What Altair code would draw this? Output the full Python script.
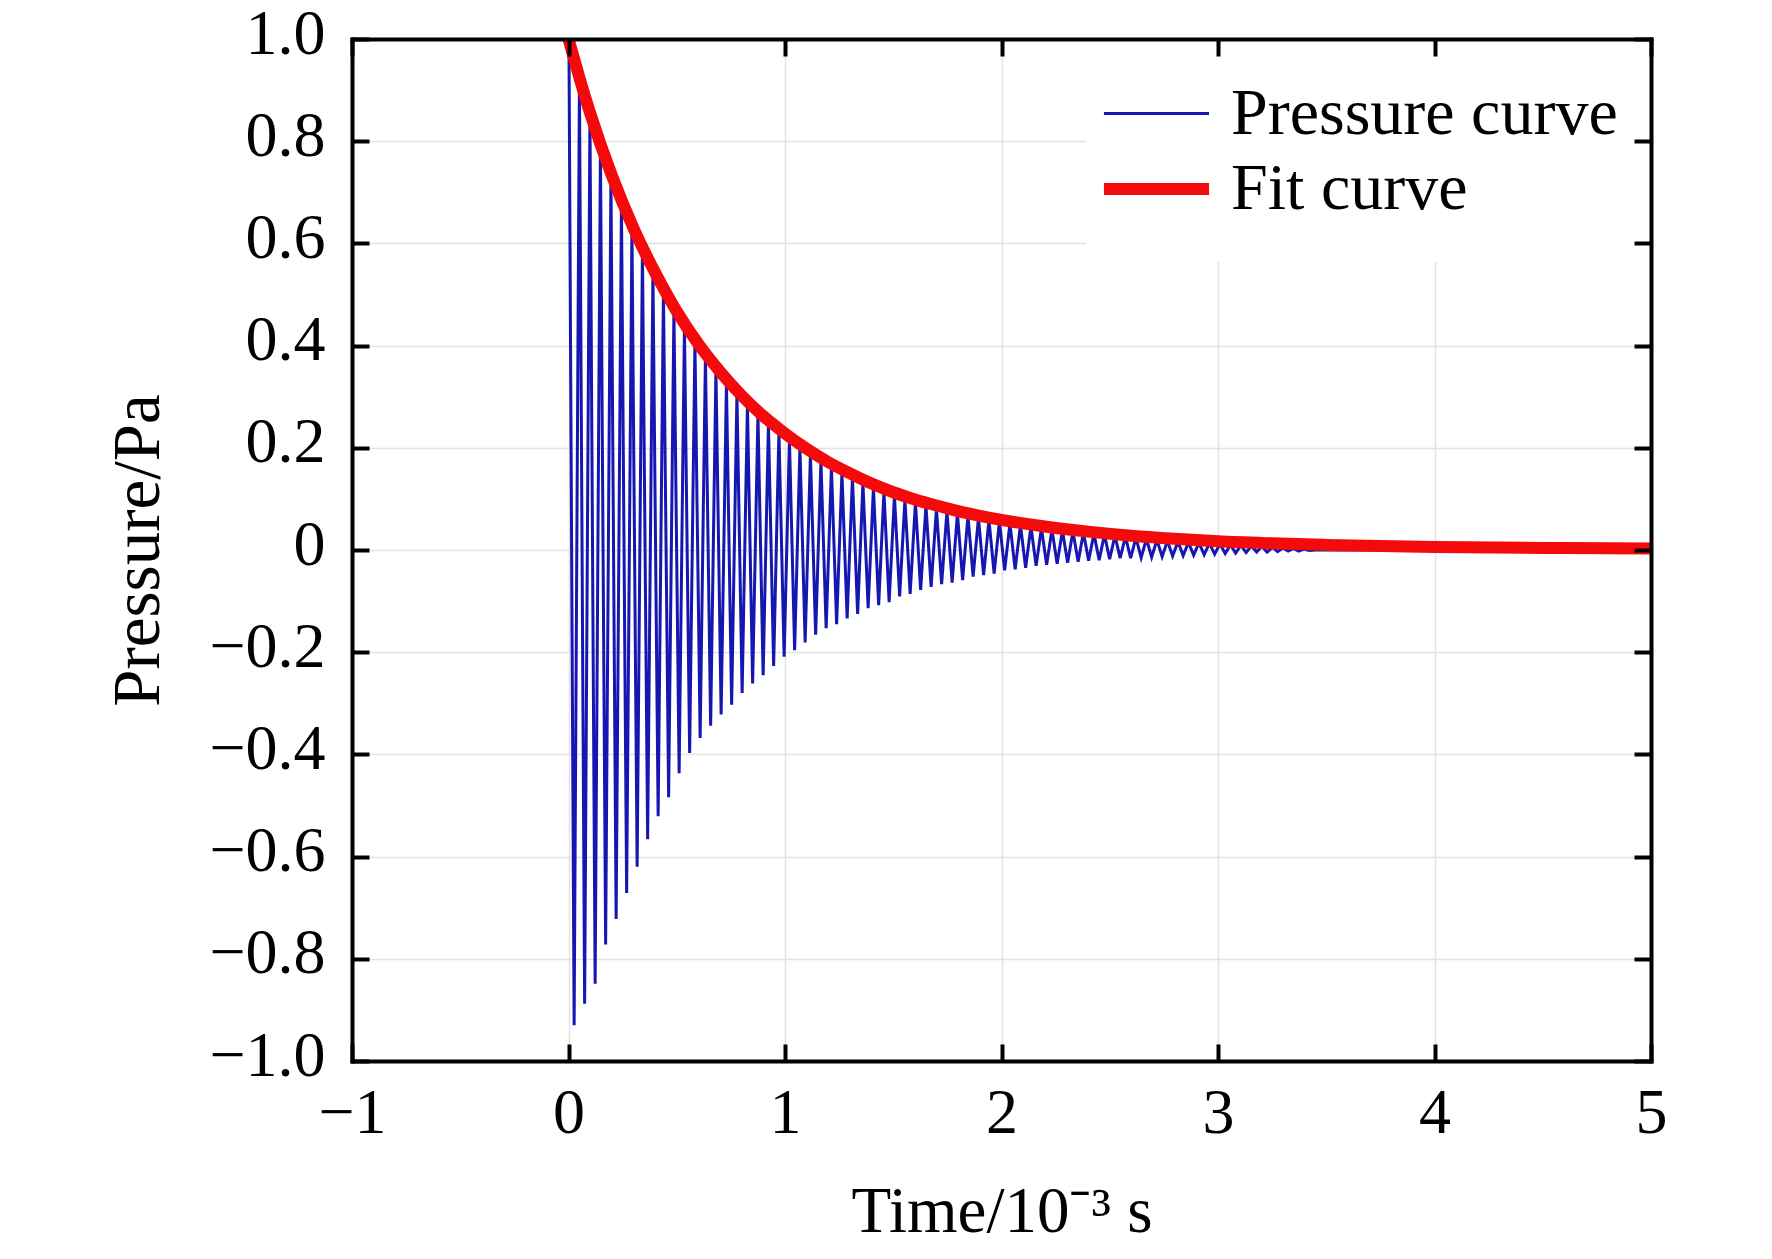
import altair as alt
import pandas as pd

# series names
SERIES = ["Pressure curve", "Fit curve"]

# pressure curve: positive peaks (time in 1e-3 s, pressure in Pa)
UPPER_T = [0.002, 0.0505, 0.099, 0.1475, 0.196, 0.2445, 0.293, 0.3415, 0.390, 0.4385,
           0.487, 0.5355, 0.584, 0.6325, 0.681, 0.7295, 0.778, 0.8265, 0.875, 0.9235,
           0.972, 1.0205, 1.069, 1.1175, 1.166, 1.2145, 1.263, 1.3115, 1.360, 1.4085,
           1.457, 1.5055, 1.554, 1.6025, 1.651, 1.6995, 1.748, 1.7965, 1.845, 1.8935,
           1.942, 1.9905, 2.039, 2.0875, 2.136, 2.1845, 2.233, 2.2815, 2.330, 2.3785,
           2.427, 2.4755, 2.524, 2.5725, 2.621, 2.6695, 2.718, 2.7665, 2.815, 2.8635,
           2.912, 2.9605, 3.009, 3.0575, 3.106, 3.1545, 3.203, 3.2515, 3.300, 3.3485,
           3.397]
UPPER_P = [1.0, 0.915, 0.85, 0.788, 0.731, 0.678, 0.63, 0.586, 0.545, 0.507,
           0.47, 0.437, 0.406, 0.378, 0.352, 0.327, 0.305, 0.284, 0.265, 0.248,
           0.232, 0.216, 0.201, 0.187, 0.174, 0.162, 0.151, 0.141, 0.131, 0.122,
           0.114, 0.106, 0.099, 0.093, 0.087, 0.081, 0.076, 0.071, 0.067, 0.063,
           0.059, 0.056, 0.052, 0.049, 0.046, 0.043, 0.040, 0.038, 0.036, 0.034,
           0.032, 0.030, 0.028, 0.026, 0.024, 0.022, 0.020, 0.018, 0.016, 0.015,
           0.014, 0.013, 0.012, 0.010, 0.009, 0.008, 0.007, 0.005, 0.004, 0.003,
           0.002]

# pressure curve: negative peaks
LOWER_T = [0.026, 0.0745, 0.123, 0.1715, 0.220, 0.2685, 0.317, 0.3655, 0.414, 0.4625,
           0.511, 0.5595, 0.608, 0.6565, 0.705, 0.7535, 0.802, 0.8505, 0.899, 0.9475,
           0.996, 1.0445, 1.093, 1.1415, 1.190, 1.2385, 1.287, 1.3355, 1.384, 1.4325,
           1.481, 1.5295, 1.578, 1.6265, 1.675, 1.7235, 1.772, 1.8205, 1.869, 1.9175,
           1.966, 2.0145, 2.063, 2.1115, 2.160, 2.2085, 2.257, 2.3055, 2.354, 2.4025,
           2.451, 2.4995, 2.548, 2.5965, 2.645, 2.6935, 2.742, 2.7905, 2.839, 2.8875,
           2.936, 2.9845, 3.033, 3.0815, 3.130, 3.1785, 3.227, 3.2755, 3.324, 3.3725,
           3.421]
LOWER_P = [-0.930, -0.888, -0.849, -0.772, -0.722, -0.671, -0.620, -0.566, -0.521, -0.484,
           -0.437, -0.397, -0.368, -0.344, -0.322, -0.303, -0.280, -0.261, -0.245, -0.227,
           -0.209, -0.196, -0.181, -0.166, -0.153, -0.145, -0.134, -0.125, -0.114, -0.108,
           -0.102, -0.091, -0.086, -0.078, -0.072, -0.067, -0.064, -0.059, -0.052, -0.049,
           -0.046, -0.040, -0.038, -0.035, -0.031, -0.029, -0.027, -0.025, -0.023, -0.021,
           -0.020, -0.018, -0.016, -0.016, -0.015, -0.014, -0.013, -0.012, -0.011, -0.010,
           -0.009, -0.008, -0.007, -0.006, -0.005, -0.004, -0.004, -0.003, -0.002, -0.002,
           -0.001]

# flat tail after the ringing has died out
TAIL_T = [3.45, 5.0]
TAIL_P = [0.0, 0.0]

# exponential fit
FIT_T = [0.0, 0.05, 0.1, 0.2, 0.3, 0.4, 0.5, 0.6, 0.7, 0.8, 0.9, 1.0, 1.1, 1.2, 1.3, 1.4,
         1.5, 1.6, 1.7, 1.8, 1.9, 2.0, 2.2, 2.4, 2.6, 2.8, 3.0, 3.25, 3.5, 4.0, 4.5, 5.0]
FIT_P = [1.0, 0.925, 0.855, 0.733, 0.63, 0.543, 0.467, 0.403, 0.349, 0.302, 0.262, 0.228,
         0.198, 0.172, 0.150, 0.130, 0.113, 0.099, 0.087, 0.076, 0.067, 0.059, 0.046, 0.036,
         0.028, 0.022, 0.017, 0.013, 0.010, 0.006, 0.004, 0.003]

X_TICKS = [-1, 0, 1, 2, 3, 4, 5]
Y_TICKS = [-1.0, -0.8, -0.6, -0.4, -0.2, 0.0, 0.2, 0.4, 0.6, 0.8, 1.0]

# white backdrop behind the legend (data units)
BOX_T = [2.39, 4.99]
BOX_P = [0.563, 0.996]

W, H = 1299, 1022
FONT = "Liberation Serif"
BLUE = "#1616b0"
RED = "#f40a0a"

rows = []
for k in range(len(UPPER_T)):
    rows.append({"t": UPPER_T[k], "p": UPPER_P[k]})
    rows.append({"t": LOWER_T[k], "p": LOWER_P[k]})
for t, p in zip(TAIL_T, TAIL_P):
    rows.append({"t": t, "p": p})
pressure = pd.DataFrame(rows)
pressure["series"] = SERIES[0]
pressure["order"] = range(len(pressure))

fit = pd.DataFrame({"t": FIT_T, "p": FIT_P, "series": SERIES[1]})
box = pd.DataFrame({"t": [BOX_T[0]], "t2": [BOX_T[1]], "p": [BOX_P[0]], "p2": [BOX_P[1]]})

x_scale = alt.Scale(domain=[-1, 5], nice=False, zero=False)
y_scale = alt.Scale(domain=[-1, 1], nice=False, zero=False)


def edge_axis(orient, values, offset):
    # inward ticks + frame line, drawn above everything
    return alt.Axis(orient=orient, offset=offset, values=values, labels=False,
                    ticks=True, tickSize=17, tickWidth=4, tickColor="black",
                    domain=True, domainColor="black", domainWidth=4, domainCap="square",
                    grid=False, title=None, zindex=1)


x_main = alt.Axis(orient="bottom", values=X_TICKS, format="d",
                  labelFont=FONT, labelFontSize=64, labelColor="black",
                  labelPadding=71, labelBaseline="alphabetic",
                  labelFlush=False, labelOverlap=False,
                  ticks=False, tickSize=0, domain=False,
                  grid=True, gridColor="#e2e2e2", gridWidth=1.5,
                  title="Time/10⁻³ s", titleFont=FONT, titleFontSize=65,
                  titleFontWeight="normal", titleColor="black",
                  titleBaseline="alphabetic", titleY=170)

y_main = alt.Axis(orient="left", values=Y_TICKS,
                  labelExpr="datum.value == 0 ? '0' : format(datum.value, '.1f')",
                  labelFont=FONT, labelFontSize=64, labelColor="black",
                  labelPadding=27, labelBaseline="middle", labelOffset=-5,
                  labelFlush=False, labelOverlap=False,
                  ticks=False, tickSize=0, domain=False,
                  grid=True, gridColor="#e2e2e2", gridWidth=1.5,
                  title="Pressure/Pa", titleFont=FONT, titleFontSize=67,
                  titleFontWeight="normal", titleColor="black",
                  titleAngle=270, titleAlign="center", titleBaseline="alphabetic",
                  titleX=-194, titleY=H / 2)

legend = alt.Legend(orient="none", legendX=762, legendY=36.5, title=None,
                    direction="vertical", symbolType="M-1.44,0H1.44", symbolSize=5329,
                    symbolStrokeWidth=6, labelFont=FONT, labelFontSize=66,
                    labelColor="black", labelOffset=32, labelLimit=900,
                    rowPadding=0, padding=0)

color = alt.Color("series:N", scale=alt.Scale(domain=SERIES, range=[BLUE, RED]), legend=legend)
width_enc = alt.StrokeWidth("series:N",
                            scale=alt.Scale(type="ordinal", domain=SERIES, range=[3.0, 12]),
                            legend=legend)

backdrop = alt.Chart(box).mark_rect(color="white").encode(
    x=alt.X("t:Q", scale=x_scale, axis=x_main),
    x2="t2:Q",
    y=alt.Y("p:Q", scale=y_scale, axis=y_main),
    y2="p2:Q",
)

pressure_line = alt.Chart(pressure).mark_line(clip=True).encode(
    x=alt.X("t:Q", scale=x_scale, axis=edge_axis("top", X_TICKS, -H)),
    y=alt.Y("p:Q", scale=y_scale, axis=edge_axis("right", Y_TICKS, -W)),
    order="order:Q",
    color=color,
    strokeWidth=width_enc,
)

fit_line = alt.Chart(fit).mark_line(clip=True, interpolate="monotone").encode(
    x=alt.X("t:Q", scale=x_scale, axis=edge_axis("bottom", X_TICKS, -H)),
    y=alt.Y("p:Q", scale=y_scale, axis=edge_axis("left", Y_TICKS, -W)),
    color=color,
    strokeWidth=width_enc,
)

chart = (
    alt.layer(backdrop, pressure_line, fit_line)
    .resolve_axis(x="independent", y="independent")
    .properties(width=W, height=H,
                padding={"left": 344, "top": 31, "right": 100, "bottom": 184},
                autosize=alt.AutoSizeParams(type="none"),
                background="white")
    .configure_view(stroke="transparent")
)

chart.save("out.html", embed_options={"renderer": "svg", "actions": False})
